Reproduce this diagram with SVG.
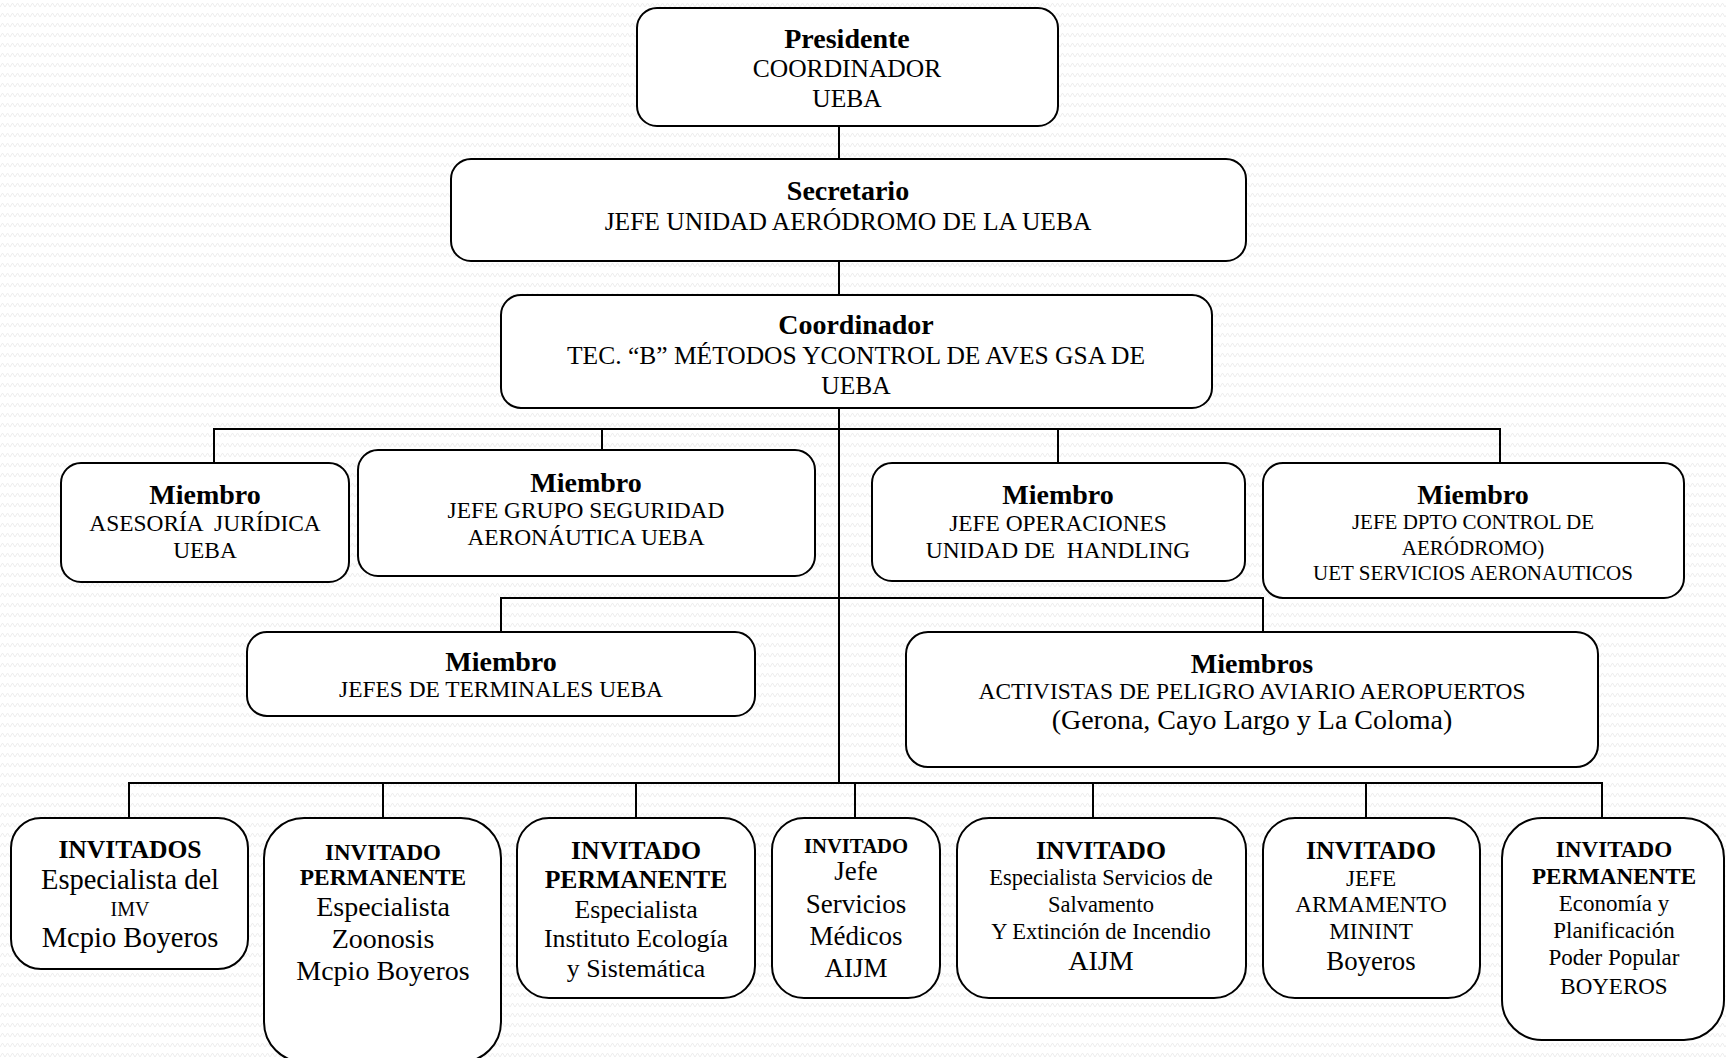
<svg xmlns="http://www.w3.org/2000/svg" width="1726" height="1058" viewBox="0 0 1726 1058">
<defs>
<pattern id="bg" width="10" height="10" patternUnits="userSpaceOnUse">
<path d="M0 7 L2.5 3 L5 7 L7.5 3 L10 7" fill="none" stroke="#ededed" stroke-width="1"/>
</pattern>
<style>
.box{fill:#fff;stroke:#000;stroke-width:2}
.ln{fill:none;stroke:#000;stroke-width:2}
text{font-family:"Liberation Serif","Times New Roman",serif;text-anchor:middle;fill:#000}
.b{font-weight:bold}
</style>
</defs>
<rect width="1726" height="1058" fill="#fff"/>
<rect width="1726" height="1058" fill="url(#bg)"/>

<g id="connectors">
<path class="ln" d="M839 126V159M839 261V295M839 385V783"/>
<path class="ln" d="M214 463V429H1500V463M602 429V463M1058 429V463"/>
<path class="ln" d="M501 632V598H1263V632"/>
<path class="ln" d="M129 818V783H1602V818M383 783V818M636 783V818M855 783V818M1093 783V818M1366 783V818"/>
</g>

<g id="presidente">
<rect class="box" x="637" y="8" width="421" height="118" rx="20"/>
<text x="847" y="48" class="b" font-size="28">Presidente</text>
<text x="847" y="77" font-size="25.5">COORDINADOR</text>
<text x="847" y="107" font-size="25.5">UEBA</text>
</g>

<g id="secretario">
<rect class="box" x="451" y="159" width="795" height="102" rx="20"/>
<text x="848" y="200" class="b" font-size="28">Secretario</text>
<text x="848" y="230" font-size="25.5">JEFE UNIDAD AERÓDROMO DE LA UEBA</text>
</g>

<g id="coordinador">
<rect class="box" x="501" y="295" width="711" height="113" rx="20"/>
<text x="856" y="334" class="b" font-size="28">Coordinador</text>
<text x="856" y="364" font-size="25.5">TEC. “B” MÉTODOS YCONTROL DE AVES GSA DE</text>
<text x="856" y="394" font-size="25.5">UEBA</text>
</g>

<g id="m-asesoria">
<rect class="box" x="61" y="463" width="288" height="119" rx="20"/>
<text x="205" y="504" class="b" font-size="28">Miembro</text>
<text x="205" y="531" font-size="23.4" xml:space="preserve">ASESORÍA  JURÍDICA</text>
<text x="205" y="558" font-size="23.4">UEBA</text>
</g>

<g id="m-seguridad">
<rect class="box" x="358" y="450" width="457" height="126" rx="20"/>
<text x="586" y="492" class="b" font-size="28">Miembro</text>
<text x="586" y="518" font-size="23.4">JEFE GRUPO SEGURIDAD</text>
<text x="586" y="545" font-size="23.4">AERONÁUTICA UEBA</text>
</g>

<g id="m-operaciones">
<rect class="box" x="872" y="463" width="373" height="118" rx="20"/>
<text x="1058" y="504" class="b" font-size="28">Miembro</text>
<text x="1058" y="531" font-size="23.4">JEFE OPERACIONES</text>
<text x="1058" y="558" font-size="23.4" xml:space="preserve">UNIDAD DE  HANDLING</text>
</g>

<g id="m-control">
<rect class="box" x="1263" y="463" width="421" height="135" rx="20"/>
<text x="1473" y="504" class="b" font-size="28">Miembro</text>
<text x="1473" y="529" font-size="21">JEFE DPTO CONTROL DE</text>
<text x="1473" y="555" font-size="21">AERÓDROMO)</text>
<text x="1473" y="580" font-size="21">UET SERVICIOS AERONAUTICOS</text>
</g>

<g id="m-terminales">
<rect class="box" x="247" y="632" width="508" height="84" rx="20"/>
<text x="501" y="671" class="b" font-size="28">Miembro</text>
<text x="501" y="697" font-size="23.4">JEFES DE TERMINALES UEBA</text>
</g>

<g id="m-activistas">
<rect class="box" x="906" y="632" width="692" height="135" rx="22"/>
<text x="1252" y="673" class="b" font-size="28">Miembros</text>
<text x="1252" y="699" font-size="23.4">ACTIVISTAS DE PELIGRO AVIARIO AEROPUERTOS</text>
<text x="1252" y="729" font-size="28">(Gerona, Cayo Largo y La Coloma)</text>
</g>

<g id="i-imv">
<rect class="box" x="11" y="818" width="237" height="151" rx="30"/>
<text x="130" y="858" class="b" font-size="25.6">INVITADOS</text>
<text x="130" y="889" font-size="28.5">Especialista del</text>
<text x="130" y="916" font-size="20">IMV</text>
<text x="130" y="947" font-size="28.5">Mcpio Boyeros</text>
</g>

<g id="i-zoonosis">
<rect class="box" x="264" y="818" width="237" height="244" rx="40"/>
<text x="383" y="860" class="b" font-size="23">INVITADO</text>
<text x="383" y="885" class="b" font-size="23.4">PERMANENTE</text>
<text x="383" y="916" font-size="28">Especialista</text>
<text x="383" y="948" font-size="28">Zoonosis</text>
<text x="383" y="980" font-size="28">Mcpio Boyeros</text>
</g>

<g id="i-ecologia">
<rect class="box" x="517" y="818" width="238" height="180" rx="32"/>
<text x="636" y="859" class="b" font-size="25.8">INVITADO</text>
<text x="636" y="888" class="b" font-size="25.7">PERMANENTE</text>
<text x="636" y="918" font-size="25.8">Especialista</text>
<text x="636" y="947" font-size="25.8">Instituto Ecología</text>
<text x="636" y="977" font-size="25.8">y Sistemática</text>
</g>

<g id="i-medicos">
<rect class="box" x="772" y="818" width="168" height="180" rx="32"/>
<text x="856" y="853" class="b" font-size="20.7">INVITADO</text>
<text x="856" y="880" font-size="27">Jefe</text>
<text x="856" y="913" font-size="27">Servicios</text>
<text x="856" y="945" font-size="27">Médicos</text>
<text x="856" y="977" font-size="27">AIJM</text>
</g>

<g id="i-salvamento">
<rect class="box" x="957" y="818" width="289" height="180" rx="32"/>
<text x="1101" y="859" class="b" font-size="25.8">INVITADO</text>
<text x="1101" y="885" font-size="22.5">Especialista Servicios de</text>
<text x="1101" y="912" font-size="22.5">Salvamento</text>
<text x="1101" y="939" font-size="22.5">Y Extinción de Incendio</text>
<text x="1101" y="970" font-size="28">AIJM</text>
</g>

<g id="i-armamento">
<rect class="box" x="1263" y="818" width="217" height="180" rx="32"/>
<text x="1371" y="859" class="b" font-size="25.8">INVITADO</text>
<text x="1371" y="886" font-size="23.2">JEFE</text>
<text x="1371" y="912" font-size="23.2">ARMAMENTO</text>
<text x="1371" y="939" font-size="23.2">MININT</text>
<text x="1371" y="970" font-size="26.8">Boyeros</text>
</g>

<g id="i-economia">
<rect class="box" x="1502" y="818" width="222" height="222" rx="40"/>
<text x="1614" y="857" class="b" font-size="23.1">INVITADO</text>
<text x="1614" y="884" class="b" font-size="23.1">PERMANENTE</text>
<text x="1614" y="911" font-size="23">Economía y</text>
<text x="1614" y="938" font-size="23">Planificación</text>
<text x="1614" y="965" font-size="23">Poder Popular</text>
<text x="1614" y="994" font-size="23">BOYEROS</text>
</g>
</svg>
